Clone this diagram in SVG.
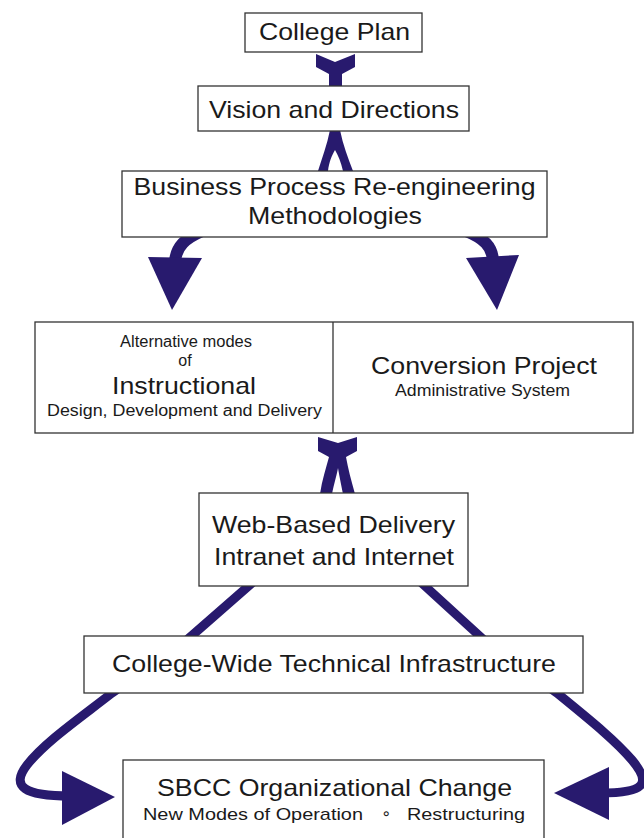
<svg xmlns="http://www.w3.org/2000/svg" width="644" height="838" viewBox="0 0 644 838">
<style>
.box{fill:#fff;stroke:#333;stroke-width:1.3}
.t{font-family:"Liberation Sans",Arial,sans-serif;fill:#1a1a1a;text-anchor:middle}
.big{font-size:24px}
.sm{font-size:16px}
.arr{fill:#281a6e;stroke:none}
.ln{fill:none;stroke:#281a6e;stroke-linecap:butt;stroke-linejoin:round}
</style>
<rect width="644" height="838" fill="#fff"/>
<g id="connectors">
  <path class="ln" stroke-width="9" d="M260,576 L188,639 L112,693 C80,718 45,742 27,765 C10,787 25,796 70,796"/>
  <path class="ln" stroke-width="9" d="M414,576 L484,640 L557,693 C590,720 615,740 632,760 C652,784 645,793 600,793"/>
  <polygon class="arr" points="62,771 62,825 115,797"/>
  <polygon class="arr" points="609,767 609,820 554,793"/>
  <path class="ln" stroke-width="12" d="M202,231 C186,238 176,246 175,262"/>
  <path class="ln" stroke-width="12" d="M466,231 C483,238 493,246 493,262"/>
  <polygon class="arr" points="148,257 202,258 172,310"/>
  <polygon class="arr" points="466,258 519,255 497,310"/>
  <path class="arr" d="M316,54 L335,62 L355,54 L355,67 L342,74 L342,87 L329,87 L329,74 L316,67 Z"/>
  <path class="arr" d="M330,130 L340,130 C343,145 348,158 353,171 L343,171 C341,162 338,155 335,150 C332,155 329,162 328,171 L318,171 C322,158 327,145 330,130 Z"/>
  <path class="arr" d="M318,437 L338,443 L357,437 L357,451 L346,457 C348,468 351,480 355,494 L343,494 C341,484 339,474 338,468 C337,474 334,484 332,494 L320,494 C322,480 326,468 329,457 L318,451 Z"/>
</g>
<g id="college-plan">
  <rect class="box" x="245" y="13" width="177" height="39"/>
  <text class="t big" x="334.5" y="39.5" textLength="151" lengthAdjust="spacingAndGlyphs">College Plan</text>
</g>
<g id="vision">
  <rect class="box" x="198" y="86" width="271" height="45"/>
  <text class="t big" x="334" y="118" textLength="250" lengthAdjust="spacingAndGlyphs">Vision and Directions</text>
</g>
<g id="bpr">
  <rect class="box" x="122" y="171" width="425" height="66"/>
  <text class="t big" x="334.5" y="195" textLength="402" lengthAdjust="spacingAndGlyphs">Business Process Re-engineering</text>
  <text class="t big" x="335" y="224" textLength="174" lengthAdjust="spacingAndGlyphs">Methodologies</text>
</g>
<g id="middle">
  <rect class="box" x="35" y="322" width="598" height="111"/>
  <line x1="333" y1="322" x2="333" y2="433" stroke="#333" stroke-width="1.3"/>
  <g id="instructional">
    <text class="t sm" x="186" y="347" textLength="132" lengthAdjust="spacingAndGlyphs">Alternative modes</text>
    <text class="t sm" x="185" y="366">of</text>
    <text class="t big" x="184" y="394" textLength="144" lengthAdjust="spacingAndGlyphs">Instructional</text>
    <text class="t sm" x="184.5" y="416" textLength="275" lengthAdjust="spacingAndGlyphs">Design, Development and Delivery</text>
  </g>
  <g id="conversion">
    <text class="t big" x="484" y="374" textLength="226" lengthAdjust="spacingAndGlyphs">Conversion Project</text>
    <text class="t sm" x="482.5" y="396" textLength="175" lengthAdjust="spacingAndGlyphs">Administrative System</text>
  </g>
</g>
<g id="web">
  <rect class="box" x="199" y="493" width="269" height="93"/>
  <text class="t big" x="333.5" y="533" textLength="243" lengthAdjust="spacingAndGlyphs">Web-Based Delivery</text>
  <text class="t big" x="334" y="565" textLength="240" lengthAdjust="spacingAndGlyphs">Intranet and Internet</text>
</g>
<g id="infrastructure">
  <rect class="box" x="84" y="636" width="499" height="57"/>
  <text class="t big" x="334" y="672" textLength="444" lengthAdjust="spacingAndGlyphs">College-Wide Technical Infrastructure</text>
</g>
<g id="sbcc">
  <rect class="box" x="123" y="760" width="421" height="90"/>
  <text class="t big" x="334.5" y="796" textLength="355" lengthAdjust="spacingAndGlyphs">SBCC Organizational Change</text>
  <text class="t" x="253" y="820" font-size="17" textLength="220" lengthAdjust="spacingAndGlyphs">New Modes of Operation</text>
  <text x="386" y="819" font-size="16" text-anchor="middle" fill="#1a1a1a" font-family="'DejaVu Sans',sans-serif">∘</text>
  <text class="t" x="466" y="820" font-size="17" textLength="118" lengthAdjust="spacingAndGlyphs">Restructuring</text>
</g>
</svg>
